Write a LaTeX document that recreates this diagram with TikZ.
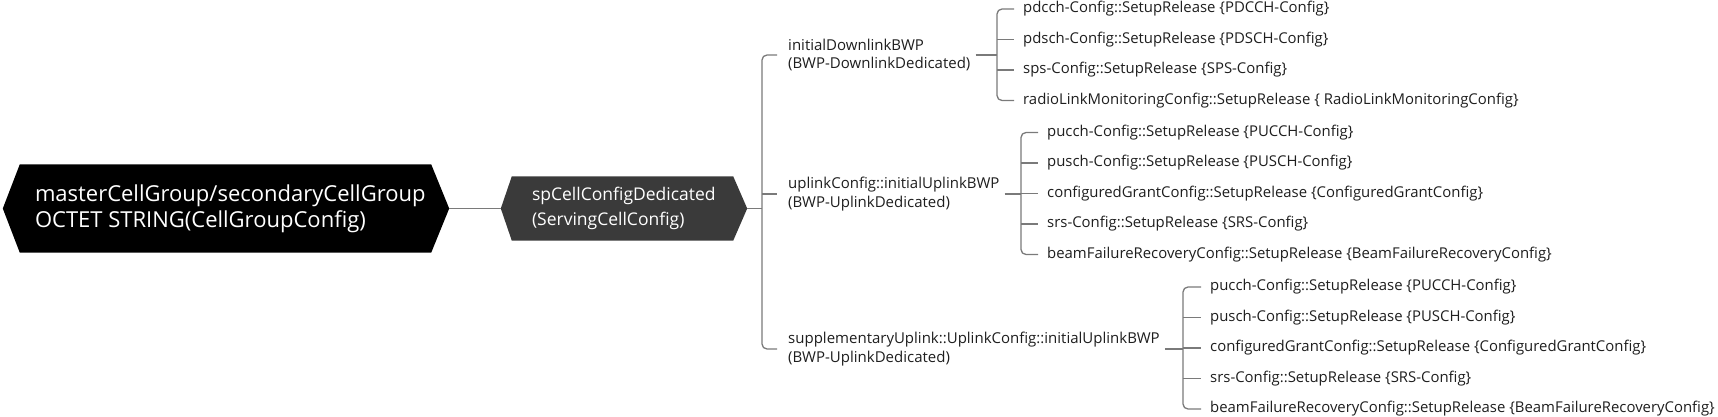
\documentclass[tikz,border=0pt]{standalone}
\usepackage{fontspec}
\setmainfont{Open Sans}
\usetikzlibrary{backgrounds}
\definecolor{linec}{HTML}{7A7A7A}
\definecolor{txt}{HTML}{1E1E1E}
\definecolor{hexa}{HTML}{000000}
\definecolor{hexb}{HTML}{3A3A3A}
\begin{document}
\begin{tikzpicture}[x=1pt,y=-1pt,
  conn/.style={draw=linec,line width=1.3pt},
  bracket/.style={conn,rounded corners=5pt},
  leaf/.style={anchor=west,inner sep=0pt,text=txt,font=\fontsize{14.9}{17}\selectfont},
  lbl/.style={anchor=west,inner sep=0pt,text=txt,align=left,font=\fontsize{15}{18.5}\selectfont},
  hexbox/.style={inner sep=0pt,draw=none},
  hextext/.style={anchor=west,inner sep=0pt,text=white,align=left},
]
\useasboundingbox (0,0) rectangle (1718,417);

% ---------- hexagon nodes ----------
\node[hexbox,minimum width=411pt,minimum height=88pt] (root) at (225.5,208.5) {};
\node[hexbox,minimum width=221pt,minimum height=64pt] (sp) at (622.5,208.5) {};
\begin{scope}[on background layer]
  \fill[hexa] (root.north west) -- (root.north east) -- ([xshift=18pt]root.east)
    -- (root.south east) -- (root.south west) -- ([xshift=-17pt]root.west) -- cycle;
  \fill[hexb] (sp.north west) -- (sp.north east) -- ([xshift=14pt]sp.east)
    -- (sp.south east) -- (sp.south west) -- ([xshift=-11pt]sp.west) -- cycle;
\end{scope}
\node[hextext,font=\fontsize{22}{26}\selectfont] (roott) at ([xshift=15pt]root.west)
  {masterCellGroup/secondaryCellGroup\\OCTET STRING(CellGroupConfig)};
\node[hextext,font=\fontsize{17.5}{25}\selectfont] (spt) at ([xshift=20pt]sp.west)
  {spCellConfigDedicated\\(ServingCellConfig)};

\draw[conn] ([xshift=18pt]root.east) -- ([xshift=-11pt]sp.west);

% ---------- second level ----------
\coordinate (mx) at (762,208.5);
\node[lbl] (dl) at (788,55) {initialDownlinkBWP\\(BWP-DownlinkDedicated)};
\node[lbl] (ul) at (788,194) {uplinkConfig::initialUplinkBWP\\(BWP-UplinkDedicated)};
\node[lbl] (sul) at (788,349) {supplementaryUplink::UplinkConfig::initialUplinkBWP\\(BWP-UplinkDedicated)};

\draw[conn] ([xshift=14pt]sp.east) -- (mx);
\draw[bracket] ([xshift=-11pt]dl.west) -| (mx |- sul.west) -- ([xshift=-11pt]sul.west);
\draw[conn] (mx |- ul.west) -- ([xshift=-11pt]ul.west);

% ---------- downlink children ----------
\coordinate (dx) at (997,55);
\node[leaf] (d1) at (1023,9) {pdcch-Config::SetupRelease \{PDCCH-Config\}};
\node[leaf] (d2) at (1023,39.5) {pdsch-Config::SetupRelease \{PDSCH-Config\}};
\node[leaf] (d3) at (1023,70) {sps-Config::SetupRelease \{SPS-Config\}};
\node[leaf] (d4) at (1023,100.5) {radioLinkMonitoringConfig::SetupRelease \{ RadioLinkMonitoringConfig\}};
\draw[conn] ([xshift=5pt]dl.east) -- (dl.east -| dx);
\draw[bracket] ([xshift=-9pt]d1.west) -| (dx |- d4.west) -- ([xshift=-9pt]d4.west);
\foreach \n in {d2,d3} \draw[conn] (dx |- \n.west) -- ([xshift=-9pt]\n.west);

% ---------- uplink children ----------
\coordinate (ux) at (1021,194);
\node[leaf] (u1) at (1047,132.5) {pucch-Config::SetupRelease \{PUCCH-Config\}};
\node[leaf] (u2) at (1047,163) {pusch-Config::SetupRelease \{PUSCH-Config\}};
\node[leaf] (u3) at (1047,193.5) {configuredGrantConfig::SetupRelease \{ConfiguredGrantConfig\}};
\node[leaf] (u4) at (1047,224) {srs-Config::SetupRelease \{SRS-Config\}};
\node[leaf] (u5) at (1047,254.5) {beamFailureRecoveryConfig::SetupRelease \{BeamFailureRecoveryConfig\}};
\draw[conn] ([xshift=5pt]ul.east) -- (ul.east -| ux);
\draw[bracket] ([xshift=-9pt]u1.west) -| (ux |- u5.west) -- ([xshift=-9pt]u5.west);
\foreach \n in {u2,u3,u4} \draw[conn] (ux |- \n.west) -- ([xshift=-9pt]\n.west);

% ---------- supplementary uplink children ----------
\coordinate (sx) at (1183,349);
\node[leaf] (s1) at (1210,287) {pucch-Config::SetupRelease \{PUCCH-Config\}};
\node[leaf] (s2) at (1210,317.5) {pusch-Config::SetupRelease \{PUSCH-Config\}};
\node[leaf] (s3) at (1210,348) {configuredGrantConfig::SetupRelease \{ConfiguredGrantConfig\}};
\node[leaf] (s4) at (1210,378.5) {srs-Config::SetupRelease \{SRS-Config\}};
\node[leaf] (s5) at (1210,409) {beamFailureRecoveryConfig::SetupRelease \{BeamFailureRecoveryConfig\}};
\draw[conn] ([xshift=5pt]sul.east) -- (sul.east -| sx);
\draw[bracket] ([xshift=-9pt]s1.west) -| (sx |- s5.west) -- ([xshift=-9pt]s5.west);
\foreach \n in {s2,s3,s4} \draw[conn] (sx |- \n.west) -- ([xshift=-9pt]\n.west);
\end{tikzpicture}
\end{document}
